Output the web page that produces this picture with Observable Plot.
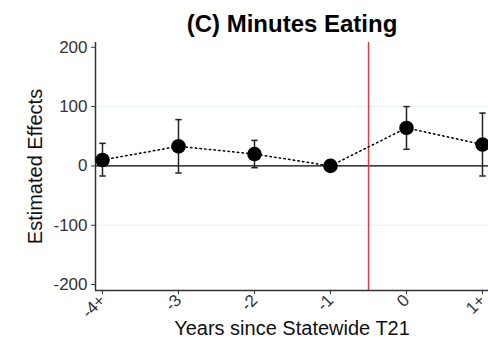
<!DOCTYPE html>
<html>
<head>
<meta charset="utf-8">
<script src="https://cdn.jsdelivr.net/npm/d3@7"></script>
<script src="https://cdn.jsdelivr.net/npm/@observablehq/plot@0.6"></script>
<style>
  html, body { margin: 0; padding: 0; background: #fff; }
  #chart svg { display: block; }
</style>
</head>
<body>
<div id="chart"></div>
<script>
// Event-study estimates: minutes spent eating, by years since statewide T21
const years    = [-4, -3, -2, -1, 0, 1];
const yearTags = ["-4+", "-3", "-2", "-1", "0", "1+"];
const estimate = [10, 33, 20, 0, 64, 36];
const ciLow    = [-17, -12, -3, -4, 28, -17];
const ciHigh   = [38, 78, 43, 4, 100, 89];
const yTicks   = [-200, -100, 0, 100, 200];
const gridVals = [-100, 100];
const policyAt = [-0.5];

const rows = years.map((y, i) => ({year: y, est: estimate[i], lo: ciLow[i], hi: ciHigh[i]}));
const tagOf = new Map(years.map((y, i) => [y, yearTags[i]]));

const xDomain = [-4.092, 1.079];
const yDomain = [-210, 208];

// short horizontal stroke used for the error-bar caps
const capSymbol = {
  draw(ctx, size) {
    const w = 3.2;
    ctx.moveTo(-w, 0);
    ctx.lineTo(w, 0);
  }
};

const centered = {textAnchor: "middle", lineAnchor: "middle"};

const chart = Plot.plot({
  width: 488,
  height: 340,
  marginTop: 42,
  marginBottom: 50,
  marginLeft: 95,
  marginRight: 0,
  style: {fontFamily: "'Liberation Sans', Arial, sans-serif", fontSize: "17px", color: "#000", background: "#fff"},
  x: {domain: xDomain},
  y: {domain: yDomain},
  marks: [
    Plot.ruleY(gridVals, {stroke: "#e9f0f3", strokeWidth: 1}),
    Plot.ruleY([0], {stroke: "#000", strokeWidth: 1.4}),
    Plot.ruleX(policyAt, {stroke: "#f03232", strokeWidth: 1.4}),
    Plot.ruleX([xDomain[0]], {stroke: "#333", strokeWidth: 1.5}),
    Plot.ruleY([yDomain[0]], {stroke: "#333", strokeWidth: 1.5}),
    Plot.line(rows, {x: "year", y: "est", stroke: "#000", strokeWidth: 1.5, strokeDasharray: "1.5 3.2"}),
    Plot.ruleX(rows, {x: "year", y1: "lo", y2: "hi", stroke: "#222", strokeWidth: 1.5}),
    Plot.dot(rows, {x: "year", y: "lo", symbol: capSymbol, stroke: "#222", strokeWidth: 1.5, r: 3}),
    Plot.dot(rows, {x: "year", y: "hi", symbol: capSymbol, stroke: "#222", strokeWidth: 1.5, r: 3}),
    Plot.dot(rows, {x: "year", y: "est", r: 7.3, fill: "#000"}),
    Plot.axisY({ticks: yTicks, tickFormat: d => String(d), tickSize: 4, tickPadding: 4, label: null, stroke: "#333", fill: "#333", fontSize: 17}),
    Plot.axisX({ticks: years, tickFormat: d => tagOf.get(d), tickSize: 4, tickPadding: 3, tickRotate: -45, label: null, stroke: "#333", fill: "#333", fontSize: 17}),
    Plot.text(["(C) Minutes Eating"], {frameAnchor: "top", dy: -18, ...centered, fontSize: 24, fontWeight: "bold", fill: "#000"}),
    Plot.text(["Years since Statewide T21"], {frameAnchor: "bottom", dy: 38, ...centered, fontSize: 20, fill: "#111"}),
    Plot.text(["Estimated Effects"], {frameAnchor: "left", dx: -60, rotate: -90, ...centered, fontSize: 20, fill: "#111"})
  ]
});

document.getElementById("chart").append(chart);
</script>
</body>
</html>
